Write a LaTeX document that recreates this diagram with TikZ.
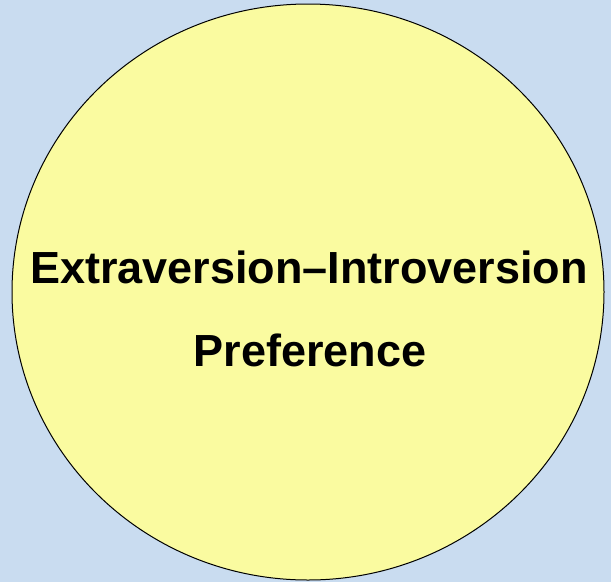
\documentclass[tikz,border=0pt]{standalone}
\usepackage{fontspec}
\setmainfont{Liberation Sans}
\usetikzlibrary{shapes.geometric, positioning, backgrounds}
\definecolor{paleblue}{RGB}{201,220,240}
\definecolor{paleyellow}{RGB}{250,251,160}
\tikzset{
    bubble/.style={draw=black, line width=1pt, fill=paleyellow, ellipse,
        minimum width=592pt, minimum height=576pt, inner sep=0pt},
    label/.style={font=\fontsize{45}{52}\selectfont\bfseries, inner sep=0pt, anchor=base}
}
\begin{document}
\begin{tikzpicture}[x=1pt, y=-1pt]
    % page frame
    \fill[paleblue] (0,0) rectangle (611,582);
    \useasboundingbox (0,0) rectangle (611,582);
    \node[bubble] (pref) at (308,292) {};
    \node[label] (top) at (309,283) {Extraversion--Introversion};
    \node[label] (bottom) at (310,366) {Preference};
\end{tikzpicture}
\end{document}
